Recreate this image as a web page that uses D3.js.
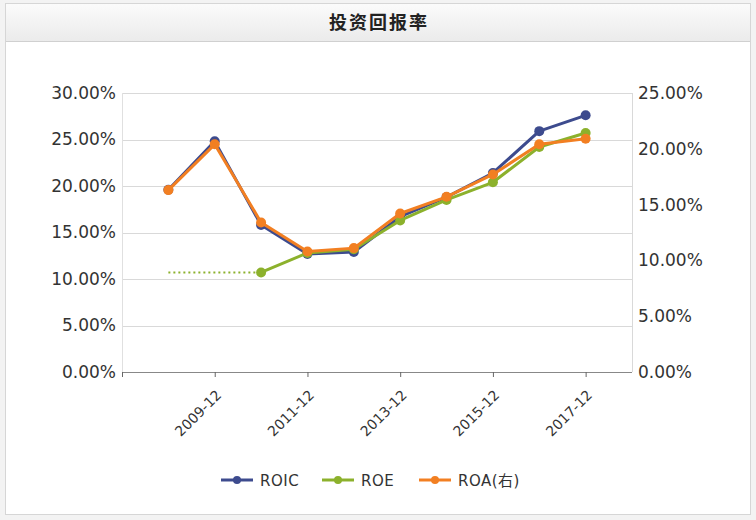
<!DOCTYPE html>
<html><head><meta charset="utf-8">
<script src="https://cdn.jsdelivr.net/npm/d3@7"></script>
<style>
html,body{margin:0;padding:0;background:#fff;}
svg{display:block;font-family:"DejaVu Sans",Verdana,sans-serif;}
</style></head>
<body>
<svg id="c" width="756" height="520"></svg>
<script>
const title = "投资回报率";
const categories = ["2008-12","2009-12","2010-12","2011-12","2012-12","2013-12","2014-12","2015-12","2016-12","2017-12"];
const roic = [19.6, 24.8, 15.8, 12.7, 12.9, 16.7, 18.8, 21.4, 25.9, 27.6];
const roe  = [null, null, 10.7, 12.8, 13.2, 16.3, 18.5, 20.4, 24.2, 25.7];
const roeDotted = [10.7, 10.7, 10.7, null, null, null, null, null, null, null];
const roa  = [16.3, 20.4, 13.4, 10.8, 11.1, 14.2, 15.7, 17.7, 20.4, 20.9];
const leftTicks = [0, 5, 10, 15, 20, 25, 30];
const rightTicks = [0, 5, 10, 15, 20, 25];
const xTickLabels = ["2009-12","2011-12","2013-12","2015-12","2017-12"];
const seriesNames = ["ROIC", "ROE", "ROA(右)"];
const colors = ["#3d4b8e", "#8cb12c", "#f27f22"];

const svg = d3.select("#c");
const W = 756, H = 520;

// panel
const defs = svg.append("defs");
const g1 = defs.append("linearGradient").attr("id","tb").attr("x1",0).attr("y1",0).attr("x2",0).attr("y2",1);
g1.append("stop").attr("offset","0%").attr("stop-color","#fbfbfb");
g1.append("stop").attr("offset","100%").attr("stop-color","#ebebeb");
svg.append("rect").attr("x",0).attr("y",0).attr("width",W).attr("height",H).attr("fill","#f3f3f3");
svg.append("rect").attr("x",5.5).attr("y",3.5).attr("width",745).attr("height",511).attr("fill","#fff").attr("stroke","#d6d6d6");
svg.append("rect").attr("x",6).attr("y",4).attr("width",744).attr("height",37).attr("fill","url(#tb)");
svg.append("line").attr("x1",6).attr("x2",750).attr("y1",41.5).attr("y2",41.5).attr("stroke","#d0d0d0");
svg.append("text").attr("x",379).attr("y",28.5).attr("text-anchor","middle")
  .attr("font-family","'Noto Sans CJK SC',sans-serif").attr("font-weight","bold").attr("font-size",18)
  .attr("letter-spacing",2).attr("fill","#222").text(title);

const L = 122, R = 632, T = 93, B = 372;
const x = d3.scalePoint().domain(categories).range([L, R]).padding(1);
const yL = d3.scaleLinear().domain([0, 30]).range([B, T]);
const yR = d3.scaleLinear().domain([0, 25]).range([B, T]);

// grid
svg.append("g").selectAll("line").data(leftTicks.filter(d=>d>0)).join("line")
  .attr("x1",L).attr("x2",R).attr("y1",d=>Math.round(yL(d))+0.5).attr("y2",d=>Math.round(yL(d))+0.5)
  .attr("stroke","#d9d9d9");
svg.append("line").attr("x1",L+0.5).attr("x2",L+0.5).attr("y1",T).attr("y2",B).attr("stroke","#e0e0e0");
svg.append("line").attr("x1",R+0.5).attr("x2",R+0.5).attr("y1",T).attr("y2",B).attr("stroke","#d9d9d9");

// left axis
const fmt = d => d.toFixed(2) + "%";
const la = svg.append("g").attr("transform",`translate(${L},0)`)
  .call(d3.axisLeft(yL).tickValues(leftTicks).tickFormat(fmt).tickSize(0).tickPadding(6));
la.select(".domain").remove();
la.selectAll("text").attr("font-size",17).attr("fill","#333").attr("font-family","'DejaVu Sans',Verdana,sans-serif");

const ra = svg.append("g").attr("transform",`translate(${R},0)`)
  .call(d3.axisRight(yR).tickValues(rightTicks).tickFormat(fmt).tickSize(0).tickPadding(6));
ra.select(".domain").remove();
ra.selectAll("text").attr("font-size",17).attr("fill","#333").attr("font-family","'DejaVu Sans',Verdana,sans-serif");

// bottom axis
const xa = svg.append("g").attr("transform",`translate(0,${B})`)
  .call(d3.axisBottom(x).tickValues(xTickLabels).tickSize(5));
xa.select(".domain").attr("stroke","#888").attr("d",`M${L},0.5H${R}`);
xa.selectAll(".tick line").attr("stroke","#666");
xa.append("line").attr("x1",L+0.5).attr("x2",L+0.5).attr("y1",0).attr("y2",5).attr("stroke","#666");
xa.selectAll(".tick text").attr("font-size",14).attr("fill","#333")
  .attr("font-family","'DejaVu Sans',Verdana,sans-serif")
  .attr("text-anchor","end").attr("x",0).attr("y",0).attr("dy",null)
  .attr("transform","translate(7,24) rotate(-45)");

// series
const series = [
  {vals: roic, y: yL, c: colors[0]},
  {vals: roe, y: yL, c: colors[1]},
  {vals: roa, y: yR, c: colors[2]}
];
// dotted ROE
svg.append("path").datum(roeDotted.map((v,i)=>[categories[i],v]))
  .attr("fill","none").attr("stroke",colors[1]).attr("stroke-width",2).attr("stroke-dasharray","2,3")
  .attr("d", d3.line().defined(d=>d[1]!=null).x(d=>x(d[0])).y(d=>yL(d[1])));

series.forEach(s=>{
  const pts = s.vals.map((v,i)=>[categories[i],v]);
  svg.append("path").datum(pts).attr("fill","none").attr("stroke",s.c).attr("stroke-width",3)
    .attr("stroke-linejoin","round")
    .attr("d", d3.line().defined(d=>d[1]!=null).x(d=>x(d[0])).y(d=>s.y(d[1])));
  svg.append("g").selectAll("circle").data(pts.filter(d=>d[1]!=null)).join("circle")
    .attr("cx",d=>x(d[0])).attr("cy",d=>s.y(d[1])).attr("r",5).attr("fill",s.c);
});

// legend
const legX = [221, 322, 419];
const lg = svg.append("g");
seriesNames.forEach((n,i)=>{
  const gx = legX[i], gy = 480;
  lg.append("line").attr("x1",gx).attr("x2",gx+32).attr("y1",gy).attr("y2",gy).attr("stroke",colors[i]).attr("stroke-width",3);
  lg.append("circle").attr("cx",gx+16).attr("cy",gy).attr("r",4).attr("fill",colors[i]);
  lg.append("text").attr("x",gx+39).attr("y",gy+5.5).attr("font-size",15).attr("letter-spacing",0.5).attr("fill","#333")
    .attr("font-family","'DejaVu Sans',Verdana,'Noto Sans CJK SC',sans-serif").text(n);
});
</script>
</body></html>
